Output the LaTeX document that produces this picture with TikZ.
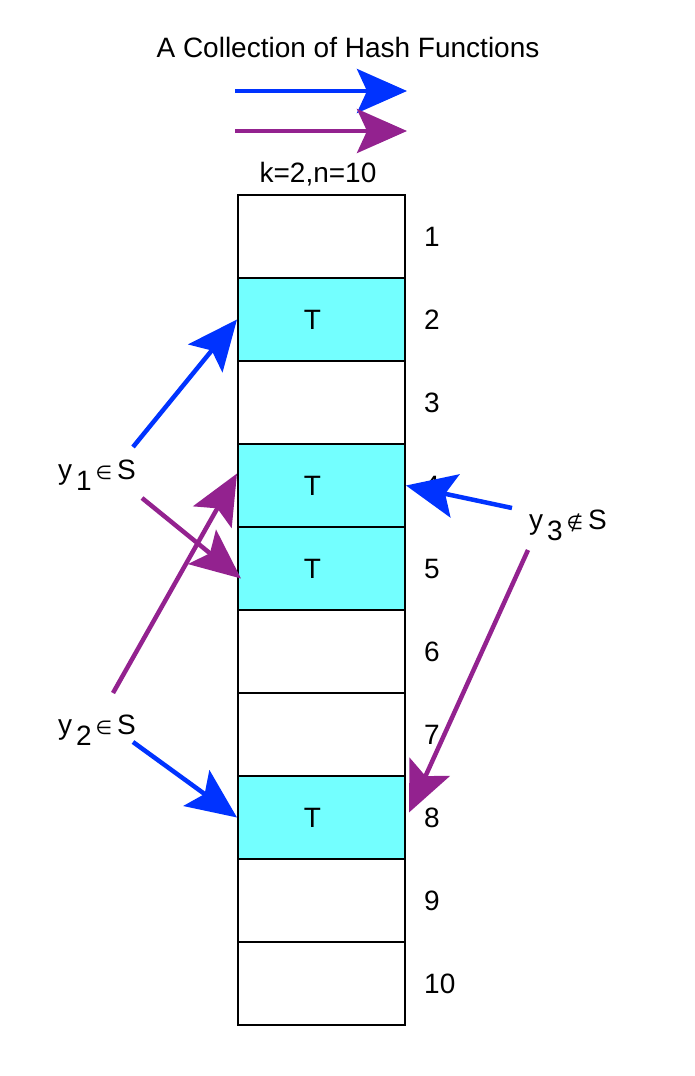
\documentclass[tikz,border=0pt]{standalone}
\usepackage{fontspec}
\setmainfont{Liberation Sans}
\newfontfamily\symfnt{DejaVu Sans}
\usetikzlibrary{arrows.meta, calc}
\definecolor{hblue}{RGB}{0,51,255}
\definecolor{hpurple}{RGB}{147,34,143}
\definecolor{hcyan}{RGB}{115,255,255}
\newcommand\ylab[2]{y\hspace{4pt}\raisebox{-11pt}{#1}\hspace{4pt}{\symfnt\fontsize{19}{19}\selectfont #2}\hspace{5pt}S}
\tikzset{
    cell/.style={rectangle,draw=black,line width=2pt,minimum width=167pt,minimum height=83pt,inner sep=0pt,fill=white},
    hit/.style={cell,fill=hcyan},
    num/.style={inner sep=0pt,anchor=west},
    tt/.style={inner sep=0pt},
    harrow/.style={line width=4.5pt,-{Stealth[length=50pt,width=44pt,inset=10pt]}},
    bl/.style={harrow,draw=hblue},
    pu/.style={harrow,draw=hpurple},
}

\begin{document}
\begin{tikzpicture}[x=1pt,y=-1pt,every node/.append style={font=\fontsize{28}{34}\selectfont}]
\useasboundingbox (0,0) rectangle (694,1076);
\def\h{83}
\def\x{321.5}
\def\y{153.5}
\node[tt] (title) at (348,47) {A Collection of Hash Functions};
\coordinate (b0) at (235,91);
\coordinate (b1) at (407,91);
\coordinate (p0) at (235,131);
\coordinate (p1) at (407,131);
\node[tt] (kn) at (318,174) {k=2,n=10};
\node[cell] (c1) at (\x,\y+1*\h) {};
\node[hit] (c2) at (\x,\y+2*\h) {};
\node[cell] (c3) at (\x,\y+3*\h) {};
\node[hit] (c4) at (\x,\y+4*\h) {};
\node[hit] (c5) at (\x,\y+5*\h) {};
\node[cell] (c6) at (\x,\y+6*\h) {};
\node[cell] (c7) at (\x,\y+7*\h) {};
\node[hit] (c8) at (\x,\y+8*\h) {};
\node[cell] (c9) at (\x,\y+9*\h) {};
\node[cell] (c10) at (\x,\y+10*\h) {};
\foreach \i in {2,4,5,8}
    \node[tt] at ($(c\i)+(-9,0)$) {T};
\foreach \i in {1,...,10}
    \node[num] (n\i) at ($(c\i.east)+(18,0)$) {\i};
\node[tt] (y1) at (97,475) {\ylab{1}{∈}};
\node[tt] (y2) at (97,730) {\ylab{2}{∈}};
\node[tt] (y3) at (568,525) {\ylab{3}{∉}};
\coordinate (y1a) at (133,447);
\coordinate (y1b) at (142,498);
\coordinate (y2a) at (113,693);
\coordinate (y2b) at (133,742);
\coordinate (y3a) at (512,508);
\coordinate (y3b) at (528,550);
\draw[bl] (b0) -- (b1);
\draw[pu] (p0) -- (p1);
\draw[bl] (y1a) -- (c2.west);
\draw[pu] (y1b) -- ([xshift=4pt,yshift=-10pt]c5.west);
\draw[pu] (y2a) -- ([yshift=12pt]c4.west);
\draw[bl] (y2b) -- (c8.west);
\draw[bl] (y3a) -- (c4.east);
\draw[pu] (y3b) -- ([xshift=3pt,yshift=5pt]c8.east);
\end{tikzpicture}
\end{document}
